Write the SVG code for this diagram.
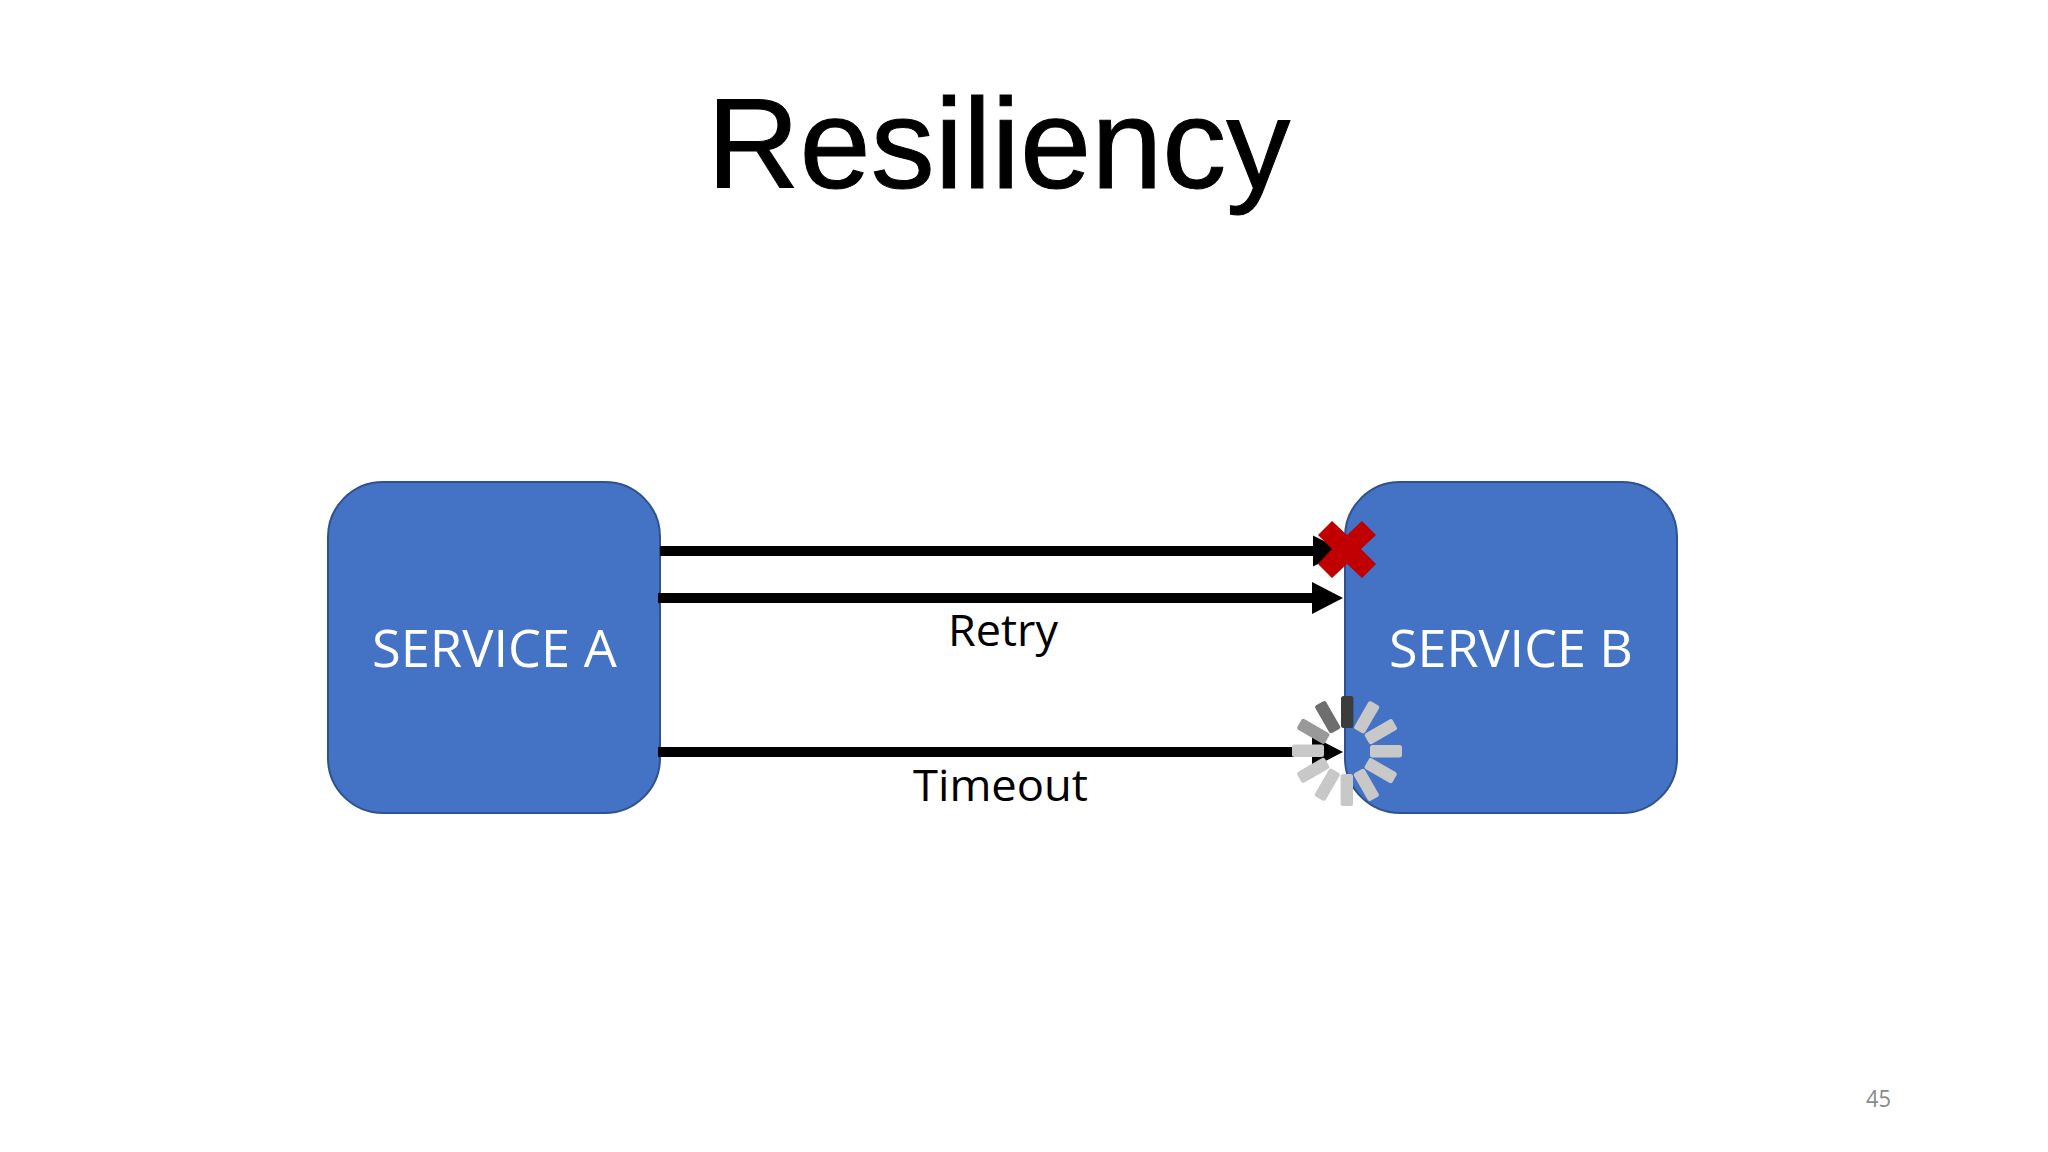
<svg xmlns="http://www.w3.org/2000/svg" width="2048" height="1152" viewBox="0 0 2048 1152">
<style>
.box{fill:#4472c4;stroke:#2f528f;stroke-width:2}
.svc{font-family:"Open Sans","Noto Sans",sans-serif;font-size:52px;fill:#fff}
.lbl{font-family:"Open Sans","Noto Sans",sans-serif;font-size:44px;fill:#000}
.ln{stroke:#000;stroke-width:10;fill:none}
.head{fill:#000}
.lite{fill:#c8c8c8}
</style>
<defs>
<rect id="b" x="-6" y="-55" width="12.4" height="32" rx="2.5"/>
</defs>
<rect width="2048" height="1152" fill="#fff"/>
<text id="title" x="707" y="188" font-family="Liberation Sans,Arial,sans-serif" font-size="128" fill="#000" stroke="#000" stroke-width="1">Resiliency</text>
<g id="service-a"><rect class="box" x="328" y="482" width="332" height="331" rx="55"/><text class="svc" x="372" y="667" textLength="245" lengthAdjust="spacingAndGlyphs">SERVICE A</text></g>
<g id="service-b"><rect class="box" x="1345" y="482" width="332" height="331" rx="55"/><text class="svc" x="1389" y="667" textLength="244" lengthAdjust="spacingAndGlyphs">SERVICE B</text></g>
<g id="connectors">
<line class="ln" x1="660" y1="551" x2="1320" y2="551"/><polygon class="head" points="1313,535.500 1313,566.500 1344,551"/>
<line class="ln" x1="658" y1="598" x2="1320" y2="598"/><polygon class="head" points="1312,582 1312,614 1343,598"/>
<line class="ln" x1="658" y1="752" x2="1320" y2="752"/><polygon class="head" points="1312,736 1312,768 1343,752"/>
</g>
<g id="retry-label"><text class="lbl" x="948" y="646" textLength="110" lengthAdjust="spacingAndGlyphs">Retry</text></g>
<g id="timeout-label"><text class="lbl" x="913" y="801" textLength="175" lengthAdjust="spacingAndGlyphs">Timeout</text></g>
<g id="failure-x"><polygon fill="#c00000" points="1318,535 1332,521 1347,535 1362,521 1376,535 1361,549 1376,564 1362,578 1347,564 1332,578 1318,564 1332,549"/></g>
<g id="spinner" transform="translate(1347,751)">
<use href="#b" class="lite" transform="rotate(30)"/>
<use href="#b" class="lite" transform="rotate(60)"/>
<use href="#b" class="lite" transform="rotate(90)"/>
<use href="#b" class="lite" transform="rotate(120)"/>
<use href="#b" class="lite" transform="rotate(150)"/>
<use href="#b" class="lite" transform="rotate(180)"/>
<use href="#b" class="lite" transform="rotate(210)"/>
<use href="#b" class="lite" transform="rotate(240)"/>
<use href="#b" class="lite" transform="rotate(270)"/>
<use href="#b" fill="#999999" transform="rotate(300)"/>
<use href="#b" fill="#6e6e6e" transform="rotate(330)"/>
<use href="#b" fill="#3c3c3c"/>
</g>
<text id="page-number" x="1866" y="1107" font-family="Open Sans,Noto Sans,sans-serif" font-size="24" fill="#8a8a8a" textLength="25" lengthAdjust="spacingAndGlyphs">45</text>
</svg>
